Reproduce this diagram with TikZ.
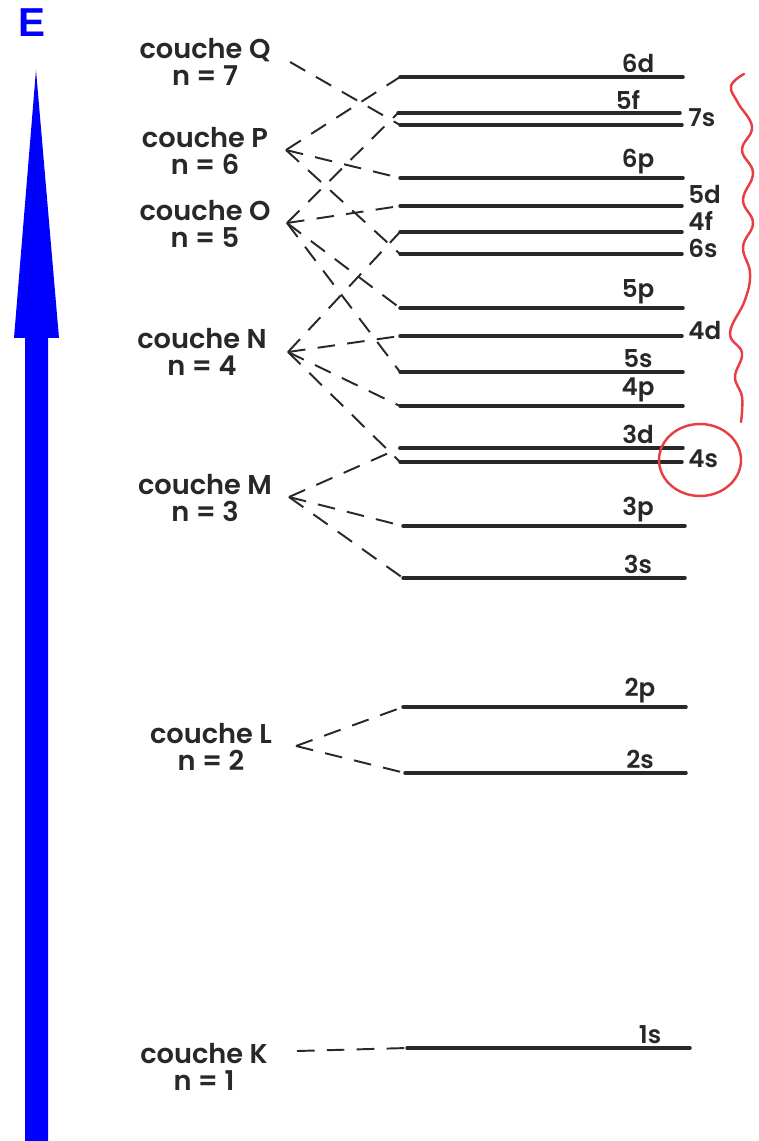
\documentclass[tikz,border=0pt]{standalone}
\usepackage{fontspec}
\setmainfont{Poppins}[UprightFont=* SemiBold]
\newfontfamily\grasE{Liberation Sans}
\usetikzlibrary{positioning}
\definecolor{rouge}{RGB}{232,62,66}
\definecolor{encre}{RGB}{40,40,40}
\begin{document}
\begin{tikzpicture}[x=0.02cm, y=-0.02cm,
	niveau/.style={line width=2pt, line cap=round, encre},
	liaison/.style={line width=1.1pt, dash pattern=on 10pt off 7pt, encre},
	couche/.style={align=center, font=\fontsize{15.5}{15.5}\selectfont, text=encre, inner sep=0pt},
	orb/.style={font=\fontsize{14}{15}\selectfont, text=encre, inner sep=2pt}]
	\useasboundingbox (0,0) rectangle (759,1141);
	
	%% axe de l'energie
	\fill[blue] (25,1141) -- (25,338) -- (14,338) -- (36,70) -- (59,338) -- (48,338) -- (48,1141) -- cycle;
	\node[text=blue, font=\grasE\fontsize{23}{23}\selectfont\bfseries] (E) at (32,23) {E};
	
	%% couches
	\node[couche] (cQ) at (205,62) {couche Q\\n = 7};
	\node[couche] (cP) at (205,151) {couche P\\n = 6};
	\node[couche] (cO) at (205,224) {couche O\\n = 5};
	\node[couche] (cN) at (202,352) {couche N\\n = 4};
	\node[couche] (cM) at (205,498) {couche M\\n = 3};
	\node[couche] (cL) at (211,747) {couche L\\n = 2};
	\node[couche] (cK) at (204,1067) {couche K\\n = 1};
	\coordinate (aQ) at (290,62);
	\coordinate (aP) at (286,150);
	\coordinate (aO) at (287,223);
	\coordinate (aN) at (288,352);
	\coordinate (aM) at (289,497);
	\coordinate (aL) at (296,746);
	\coordinate (aK) at (297,1051);
	
	%% niveaux, etiquette au-dessus
	\foreach \nom/\y/\xa/\xb/\xt in {6d/77/400/683/638, 5f/113/398/680/628, 6p/178/400/683/638,
		5p/308/400/683/638, 5s/372/400/683/638, 4p/406/400/683/638, 3d/448/400/683/638,
		3p/526/403/685/638, 3s/578/403/685/638, 2p/707/403/686/640, 2s/773/405/686/640, 1s/1048/407/690/650}
	{
		\coordinate (n\nom) at (\xa,\y);
		\draw[niveau] (n\nom) -- (\xb,\y);
		\node[orb, above] (t\nom) at (\xt,\y) {\nom};
	}
	%% niveaux, etiquette a droite
	\foreach \nom/\y/\dy in {7s/125/7, 5d/206/11, 4f/232/11, 6s/254/6, 4d/336/5, 4s/462/3}
	{
		\coordinate (n\nom) at (400,\y);
		\draw[niveau] (n\nom) -- (682,\y);
		\node[orb, anchor=west, inner sep=0pt] (t\nom) at (688,\y-\dy) {\nom};
	}
	
	%% liaisons couche -> sous-couches
	\foreach \s/\liste in {Q/{7s}, P/{6s,6p,6d}, O/{5s,5p,5d,5f}, N/{4s,4p,4d,4f}, M/{3s,3p,3d}, L/{2s,2p}, K/{1s}}
	{
		\foreach \o in \liste
			\draw[liaison] (a\s) -- (n\o);
	}
	
	%% accolade et cercle rouges
	\draw[rouge, line width=1.4pt, line cap=round] plot[smooth, tension=0.7] coordinates {
		(744,74) (731,86) (738,103) (752,127) (742,150) (753,173) (743,200) (753,223)
		(743,247) (750,273) (745,300) (730,333) (742,353) (735,377) (742,397) (741,422)};
	\draw[rouge, line width=1.4pt] (700,460) ellipse [x radius=41, y radius=36];
\end{tikzpicture}
\end{document}
